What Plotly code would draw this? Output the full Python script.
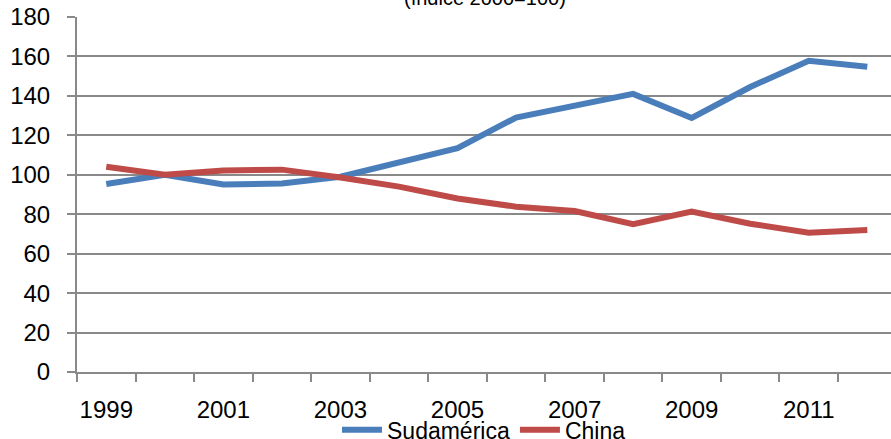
import plotly.graph_objects as go

years = list(range(1999, 2013))
sudamerica = [95.3, 100, 95.1, 95.6, 99, 106.5, 113.5, 129, 135, 141, 128.8, 144.5, 157.8, 154.8]
china = [104.1, 100, 102.2, 102.6, 98.6, 94, 88, 83.8, 81.6, 74.9, 81.3, 75.2, 70.6, 72]
label_years = [1999, 2001, 2003, 2005, 2007, 2009, 2011]
title_text = "(índice 2000=100)"

FONT = "Liberation Sans, Arial, sans-serif"
GRID = "#898989"

fig = go.Figure()
fig.add_trace(go.Scatter(x=years, y=sudamerica, mode="lines", name="Sudamérica",
                         line=dict(color="#4A7EBB", width=6)))
fig.add_trace(go.Scatter(x=years, y=china, mode="lines", name="China",
                         line=dict(color="#BE4B48", width=6)))

fig.update_layout(
    width=891, height=439,
    margin=dict(l=77, r=0, t=17, b=67, autoexpand=False),
    paper_bgcolor="white", plot_bgcolor="white",
    font=dict(family=FONT, size=24, color="black"),
    showlegend=True,
    legend=dict(orientation="h", x=0.5, xanchor="center", y=-0.163, yanchor="middle",
                font=dict(size=23), itemwidth=40, tracegroupgap=0,
                bgcolor="rgba(0,0,0,0)"),
    annotations=[dict(text=title_text, xref="paper", yref="paper", x=(485 - 77) / 814, y=1,
                      xanchor="center", yanchor="bottom", yshift=6, showarrow=False,
                      font=dict(size=20, family=FONT))],
)

fig.update_xaxes(
    automargin=False,
    range=[1998.5, 1998.5 + (891 - 77) / 58.54],
    tickvals=label_years, ticktext=[str(y) for y in label_years],
    ticks="outside", ticklen=0, ticklabelstandoff=15,
    minor=dict(tick0=1998.5, dtick=1, ticks="outside", ticklen=8, tickwidth=2, tickcolor=GRID, showgrid=False),
    showgrid=False, zeroline=False,
    showline=True, linecolor=GRID, linewidth=2,
)
fig.update_yaxes(
    automargin=False,
    range=[0, 180], dtick=20, tick0=0,
    showgrid=True, gridcolor=GRID, gridwidth=2,
    zeroline=False,
    showline=True, linecolor=GRID, linewidth=2,
    ticks="outside", ticklen=8, tickwidth=2, tickcolor=GRID,
    ticklabelstandoff=12,
)

fig.write_html("out.html", config={"displayModeBar": False},
               post_script="document.body.style.margin='0';document.body.style.overflow='hidden';")
